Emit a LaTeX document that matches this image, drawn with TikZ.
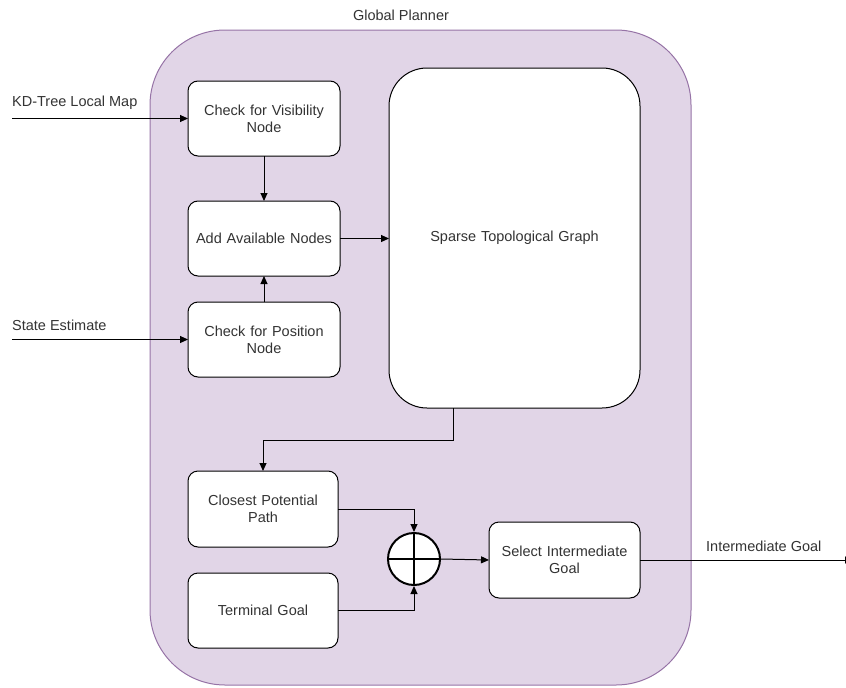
\documentclass[tikz,border=0pt]{standalone}
\usepackage{fontspec}
\setmainfont{Liberation Sans}
\usepackage{tikz}
\usetikzlibrary{arrows.meta,positioning,calc}
\definecolor{plannerFill}{HTML}{E1D5E7}
\definecolor{plannerLine}{HTML}{9673A6}
\definecolor{textGray}{HTML}{333333}

\begin{document}
\begin{tikzpicture}[
    x=1pt, y=-1pt,
    node distance=25pt,
    font=\fontsize{14.5}{17}\selectfont,
    text=textGray,
    box/.style={draw, rectangle, rounded corners=10pt, fill=white, minimum width=152pt, minimum height=75pt, align=center, text width=140pt, outer sep=0pt, line width=1pt},
    arrow/.style={-{Triangle[length=8pt,width=7pt]}, line width=1pt}
]
    \useasboundingbox (0,0) rectangle (846,688);

    % Global Planner
    \draw[plannerLine, fill=plannerFill, rounded corners=75pt, line width=1pt] (150,30) rectangle (691,685);
    \node (title) at (401,15) {Global Planner};

    % Left column
    \node[box] (vis) at (264,118.5) {Check for Visibility\\Node};
    \node[box, below=45pt of vis] (add) {Add Available Nodes};
    \node[box, below=26pt of add] (pos) {Check for Position\\Node};

    % Graph
    \node[box, rounded corners=38pt, text width=230pt, minimum width=251pt, minimum height=340pt] (graph) at (514.5,238) {Sparse Topological Graph};

    % Goal selection
    \node[box, minimum width=150pt, minimum height=76pt] (closest) at (263,509) {Closest Potential\\Path};
    \node[box, minimum width=150pt] (terminal) at (263,610.5) {Terminal Goal};
    \node[draw, circle, fill=white, line width=2pt, minimum size=52pt, inner sep=0pt] (sum) at (414,559) {};
    \draw[line width=2pt] (sum.north) -- (sum.south) (sum.west) -- (sum.east);
    \node[box, minimum width=151pt, minimum height=76pt] (select) at (564.5,560) {Select Intermediate\\Goal};

    % Inputs and output
    \coordinate (mapIn) at (12,118.5);
    \coordinate (stateIn) at (12,339.5);
    \coordinate (goalOut) at (853,560);
    \node[anchor=south west, inner sep=0pt] (mapLabel) at (12,110) {KD-Tree Local Map};
    \node[anchor=south west, inner sep=0pt] (stateLabel) at (12,331) {State Estimate};
    \node[anchor=south west, inner sep=0pt] (goalLabel) at (706,552) {Intermediate Goal};

    % Arrows
    \draw[arrow] (mapIn) -- (vis.west);
    \draw[arrow] (stateIn) -- (pos.west);
    \draw[arrow] (vis.south) -- (add.north);
    \draw[arrow] (pos.north) -- (add.south);
    \draw[arrow] (add.east) -- (add.east -| graph.west);
    \draw[arrow] ([xshift=-61pt]graph.south) -- ++(0,32) -| (closest.north);
    \draw[arrow] (closest.east) -| (sum.north);
    \draw[arrow] (terminal.east) -| (sum.south);
    \draw[arrow] (sum.east) -- (select.west);
    \draw[arrow] (select.east) -- (goalOut);
\end{tikzpicture}
\end{document}
